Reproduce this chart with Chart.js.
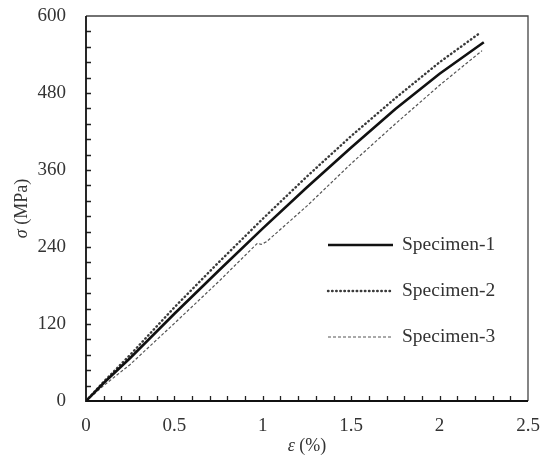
<!DOCTYPE html>
<html lang="pt-br">
<head>
<meta charset="UTF-8">
<script src="https://cdn.jsdelivr.net/npm/chart.js@4.4.1/dist/chart.umd.min.js"></script>
<style>
    body { margin: 0; background: #fff; }
    canvas { display: block; }
</style>
</head>
<body>
<canvas id="tensaoChart" width="545" height="459"></canvas>
<script>
// Curvas tensão x deformação dos três corpos de prova
const nomes = ['Specimen-1', 'Specimen-2', 'Specimen-3'];

const deformacao1 = [0, 0.1, 0.25, 0.5, 0.75, 1.0, 1.25, 1.5, 1.75, 2.0, 2.25];
const tensao1 = [0, 28, 67, 136, 203, 269, 333, 395, 455, 510, 559];

const deformacao2 = [0, 0.1, 0.25, 0.5, 0.75, 1.0, 1.25, 1.5, 1.75, 2.0, 2.23];
const tensao2 = [0, 30, 72, 146, 216, 284, 350, 413, 472, 528, 574];

const deformacao3 = [0, 0.1, 0.25, 0.5, 0.75, 0.97, 0.99, 1.02, 1.25, 1.5, 1.75, 2.0, 2.24];
const tensao3 = [0, 24, 57, 121, 186, 246, 244, 248, 304, 370, 432, 492, 546];

// Marcas dos eixos
const ticksX = [0, 0.5, 1, 1.5, 2, 2.5];
const ticksY = [0, 120, 240, 360, 480, 600];
const passoMenorX = 0.1;
const passoMenorY = 24;

const fonte = 'Liberation Serif, Times New Roman, serif';

const pontos = (xs, ys) => xs.map((x, i) => ({ x, y: ys[i] }));

// Moldura, marcas internas, títulos dos eixos e legenda
const extras = {
    id: 'extras',
    afterDatasetsDraw(chart) {
        const { ctx, chartArea: a, scales: { x, y } } = chart;
        ctx.save();

        // marcas para dentro do gráfico
        ctx.strokeStyle = '#222';
        ctx.lineWidth = 1.3;
        ctx.beginPath();
        const nX = Math.round((x.max - x.min) / passoMenorX);
        for (let i = 1; i < nX; i++) {
            const px = Math.round(x.getPixelForValue(x.min + i * passoMenorX)) + 0.5;
            ctx.moveTo(px, a.bottom);
            ctx.lineTo(px, a.bottom - 5);
        }
        const nY = Math.round((y.max - y.min) / passoMenorY);
        for (let i = 1; i < nY; i++) {
            const py = Math.round(y.getPixelForValue(y.min + i * passoMenorY)) + 0.5;
            ctx.moveTo(a.left, py);
            ctx.lineTo(a.left + 5, py);
        }
        ctx.stroke();

        // topo e lateral direita
        ctx.strokeStyle = '#444';
        ctx.lineWidth = 1.3;
        ctx.beginPath();
        ctx.moveTo(a.left, a.top);
        ctx.lineTo(a.right, a.top);
        ctx.lineTo(a.right, a.bottom);
        ctx.stroke();

        // eixos principais
        ctx.strokeStyle = '#111';
        ctx.lineWidth = 1.8;
        ctx.beginPath();
        ctx.moveTo(a.left, a.top);
        ctx.lineTo(a.left, a.bottom);
        ctx.lineTo(a.right, a.bottom);
        ctx.stroke();

        ctx.restore();
    },
    afterDraw(chart) {
        const { ctx, chartArea: a } = chart;
        ctx.save();
        ctx.fillStyle = '#333';
        ctx.textBaseline = 'middle';

        // título com a letra grega em itálico
        const titulo = (grego, resto, cx, cy, rot) => {
            ctx.save();
            ctx.translate(cx, cy);
            ctx.rotate(rot);
            ctx.font = 'italic 18px ' + fonte;
            const w1 = ctx.measureText(grego).width;
            ctx.font = '18px ' + fonte;
            const w2 = ctx.measureText(resto).width;
            let px = -(w1 + w2) / 2;
            ctx.textAlign = 'left';
            ctx.font = 'italic 18px ' + fonte;
            ctx.fillText(grego, px, 0);
            ctx.font = '18px ' + fonte;
            ctx.fillText(resto, px + w1, 0);
            ctx.restore();
        };
        titulo('ε', ' (%)', (a.left + a.right) / 2, a.bottom + 45, 0);
        titulo('σ', ' (MPa)', 22, (a.top + a.bottom) / 2, -Math.PI / 2);

        // legenda dentro da área do gráfico
        const x0 = a.right - 200;
        chart.data.datasets.forEach((ds, i) => {
            const ly = a.top + 229 + i * 46;
            ctx.save();
            ctx.strokeStyle = ds.borderColor;
            ctx.lineWidth = ds.borderWidth;
            ctx.lineCap = ds.borderCapStyle || 'butt';
            ctx.setLineDash(ds.borderDash || []);
            ctx.beginPath();
            ctx.moveTo(x0, ly);
            ctx.lineTo(x0 + 65, ly);
            ctx.stroke();
            ctx.restore();
            ctx.font = '19.5px ' + fonte;
            ctx.textAlign = 'left';
            ctx.fillText(ds.label, x0 + 74, ly);
        });
        ctx.restore();
    }
};

document.addEventListener('DOMContentLoaded', () => {
    const ctx = document.getElementById('tensaoChart').getContext('2d');
    new Chart(ctx, {
        type: 'line',
        data: {
            datasets: [
                {
                    label: nomes[0],
                    data: pontos(deformacao1, tensao1),
                    borderColor: '#111',
                    borderWidth: 2.6,
                    borderDash: []
                },
                {
                    label: nomes[1],
                    data: pontos(deformacao2, tensao2),
                    borderColor: '#3a3a3a',
                    borderWidth: 2.4,
                    borderDash: [0.5, 3.6],
                    borderCapStyle: 'round'
                },
                {
                    label: nomes[2],
                    data: pontos(deformacao3, tensao3),
                    borderColor: '#555',
                    borderWidth: 1.2,
                    borderDash: [3, 2]
                }
            ]
        },
        options: {
            responsive: false,
            animation: false,
            layout: { padding: { top: 16, right: 17, left: 0, bottom: 0 } },
            elements: {
                point: { radius: 0 },
                line: { tension: 0, fill: false }
            },
            plugins: {
                legend: { display: false },
                tooltip: { enabled: false }
            },
            scales: {
                x: {
                    type: 'linear',
                    min: 0,
                    max: 2.5,
                    afterBuildTicks: (scale) => { scale.ticks = ticksX.map(v => ({ value: v })); },
                    afterFit: (scale) => {
                        scale.height = 58;
                        scale.paddingLeft = 0;
                        scale.paddingRight = 0;
                    },
                    grid: { display: false, drawTicks: false },
                    border: { display: false },
                    ticks: {
                        padding: 14,
                        color: '#333',
                        maxRotation: 0,
                        callback: (valor) => String(valor),
                        font: { size: 19, family: fonte }
                    }
                },
                y: {
                    min: 0,
                    max: 600,
                    afterBuildTicks: (scale) => { scale.ticks = ticksY.map(v => ({ value: v })); },
                    afterFit: (scale) => {
                        scale.width = 86;
                        scale.paddingTop = 0;
                        scale.paddingBottom = 0;
                    },
                    grid: { display: false, drawTicks: false },
                    border: { display: false },
                    ticks: {
                        padding: 20,
                        color: '#333',
                        callback: (valor) => String(valor),
                        font: { size: 19, family: fonte }
                    }
                }
            }
        },
        plugins: [extras]
    });
});
</script>
</body>
</html>
